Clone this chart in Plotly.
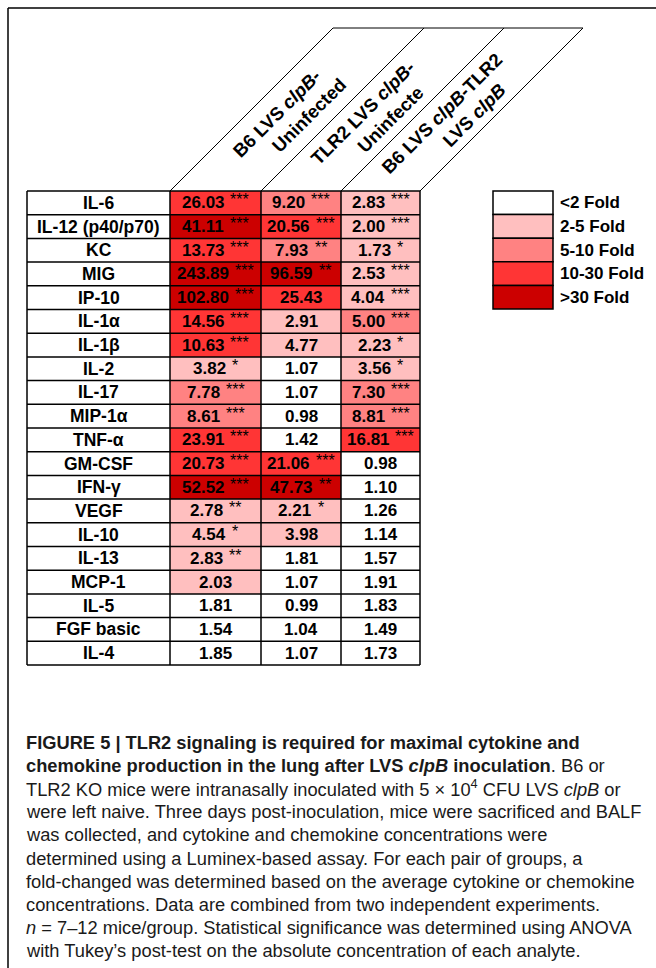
import numpy as np
import plotly.graph_objects as go

# ---- data -------------------------------------------------------------
analytes = ["IL-6", "IL-12 (p40/p70)", "KC", "MIG", "IP-10", "IL-1α", "IL-1β",
            "IL-2", "IL-17", "MIP-1α", "TNF-α", "GM-CSF", "IFN-γ", "VEGF",
            "IL-10", "IL-13", "MCP-1", "IL-5", "FGF basic", "IL-4"]

b6_vs_uninfected = [26.03, 41.11, 13.73, 243.89, 102.80, 14.56, 10.63, 3.82, 7.78,
                    8.61, 23.91, 20.73, 52.52, 2.78, 4.54, 2.83, 2.03, 1.81, 1.54, 1.85]
b6_vs_uninfected_sig = ["***", "***", "***", "***", "***", "***", "***", "*", "***",
                        "***", "***", "***", "***", "**", "*", "**", "", "", "", ""]

tlr2_vs_uninfected = [9.20, 20.56, 7.93, 96.59, 25.43, 2.91, 4.77, 1.07, 1.07,
                      0.98, 1.42, 21.06, 47.73, 2.21, 3.98, 1.81, 1.07, 0.99, 1.04, 1.07]
tlr2_vs_uninfected_sig = ["***", "***", "**", "**", "", "", "", "", "",
                          "", "", "***", "**", "*", "", "", "", "", "", ""]

b6_vs_tlr2 = [2.83, 2.00, 1.73, 2.53, 4.04, 5.00, 2.23, 3.56, 7.30,
              8.81, 16.81, 0.98, 1.10, 1.26, 1.14, 1.57, 1.91, 1.83, 1.49, 1.73]
b6_vs_tlr2_sig = ["***", "***", "*", "***", "***", "***", "*", "*", "***",
                  "***", "***", "", "", "", "", "", "", "", "", ""]

# column headers: (first line, second line)
comparisons = [("B6 LVS <i>clpB</i>-", "Uninfected"),
               ("TLR2 LVS <i>clpB</i>-", "Uninfecte"),
               ("B6 LVS <i>clpB</i>-TLR2", "LVS <i>clpB</i>")]

fold_edges = [2, 5, 10, 30]
fold_labels = ["&lt;2 Fold", "2-5 Fold", "5-10 Fold", "10-30 Fold", "&gt;30 Fold"]
# KC in the B6 LVS clpB-TLR2 LVS clpB comparison is shaded in the 2-5 band
forced_bands = {(2, 2): 1}

caption_lines = [
    "<b>FIGURE 5 | TLR2 signaling is required for maximal cytokine and</b>",
    "<b>chemokine production in the lung after LVS <i>clpB</i> inoculation</b>. B6 or",
    "TLR2 KO mice were intranasally inoculated with 5 × 10<sup>4</sup> CFU LVS <i>clpB</i> or",
    "were left naive. Three days post-inoculation, mice were sacrificed and BALF",
    "was collected, and cytokine and chemokine concentrations were",
    "determined using a Luminex-based assay. For each pair of groups, a",
    "fold-changed was determined based on the average cytokine or chemokine",
    "concentrations. Data are combined from two independent experiments.",
    "<i>n</i> = 7–12 mice/group. Statistical significance was determined using ANOVA",
    "with Tukey’s post-test on the absolute concentration of each analyte.",
]

# ---- layout constants (pixel space) -----------------------------------
W, H = 656, 968
band_colors = ["#FFFFFF", "#FFBFBF", "#FF8282", "#FF3535", "#CC0000"]
col_edges = [27, 170, 261, 341, 420]      # label column + three comparison columns
table_top, row_h = 191, 23.7
header_top = 28
legend_x0, legend_x1, legend_top, legend_h = 493, 553, 191, 23.6
cap_x, cap_y0, cap_dy = 24, 742, 23.2
FONT = "Liberation Sans, Arial, sans-serif"
NUM_SIZE, STAR_SIZE, STAR_GAP = 17, 16, 6

values = np.array([b6_vs_uninfected, tlr2_vs_uninfected, b6_vs_tlr2]).T
sigs = list(zip(b6_vs_uninfected_sig, tlr2_vs_uninfected_sig, b6_vs_tlr2_sig))
bands = np.digitize(values, fold_edges).astype(float)
for (r, c), b in forced_bands.items():
    bands[r, c] = b

n_rows = len(analytes)
row_edges = [table_top + i * row_h for i in range(n_rows + 1)]
row_mid = [(row_edges[i] + row_edges[i + 1]) / 2 for i in range(n_rows)]
col_mid = [(col_edges[i] + col_edges[i + 1]) / 2 for i in range(len(col_edges) - 1)]
table_bottom = row_edges[-1]


def num_width(s, size):
    # advance widths of the bold sans digits and decimal point
    return sum(0.278 if ch == "." else 0.556 for ch in s) * size


fig = go.Figure()

# shaded fold-change cells
n_b = len(band_colors)
scale = []
for i, c in enumerate(band_colors):
    scale += [[i / n_b, c], [(i + 1) / n_b, c]]
fig.add_trace(go.Heatmap(
    x=col_edges[1:], y=row_edges, z=bands,
    colorscale=scale, zmin=-0.5, zmax=n_b - 0.5,
    showscale=False, hoverinfo="skip", xgap=0, ygap=0,
))

shapes = []
line = dict(color="black", width=1.5)

# outer frame
shapes.append(dict(type="line", x0=8, y0=8, x1=W, y1=8, line=dict(color="black", width=1.5)))
shapes.append(dict(type="line", x0=8, y0=8, x1=8, y1=H, line=dict(color="black", width=1.5)))

# table grid
for y in row_edges:
    shapes.append(dict(type="line", x0=col_edges[0], x1=col_edges[-1], y0=y, y1=y, line=line))
for x in col_edges:
    shapes.append(dict(type="line", x0=x, x1=x, y0=table_top, y1=table_bottom, line=line))

# slanted header bands
rise = table_top - header_top
for x in col_edges[1:]:
    shapes.append(dict(type="line", x0=x, y0=table_top, x1=x + rise, y1=header_top, line=dict(color="black", width=1)))
shapes.append(dict(type="line", x0=col_edges[1] + rise, x1=col_edges[-1] + rise,
                   y0=header_top, y1=header_top, line=dict(color="black", width=1)))

# legend swatches
for i, c in enumerate(band_colors):
    y0 = legend_top + i * legend_h
    shapes.append(dict(type="rect", x0=legend_x0, x1=legend_x1, y0=y0, y1=y0 + legend_h,
                       fillcolor=c, line=dict(color="black", width=1.5)))

annotations = []

# row labels
for name, y in zip(analytes, row_mid):
    annotations.append(dict(x=col_mid[0], y=y, text=f"<b>{name}</b>", showarrow=False,
                            xanchor="center", yanchor="middle",
                            font=dict(family=FONT, size=17.5, color="black")))

# cell values with significance stars; number + stars centred as a group
for r in range(n_rows):
    for c in range(3):
        s = f"{values[r, c]:.2f}"
        star = sigs[r][c]
        nw = num_width(s, NUM_SIZE)
        sw = len(star) * 0.389 * STAR_SIZE
        group = nw + (STAR_GAP + sw if star else 0)
        left = col_mid[c + 1] - group / 2
        annotations.append(dict(x=left + nw / 2, y=row_mid[r], text=f"<b>{s}</b>", showarrow=False,
                                xanchor="center", yanchor="middle",
                                font=dict(family=FONT, size=NUM_SIZE, color="black")))
        if star:
            annotations.append(dict(x=left + nw + STAR_GAP + sw / 2, y=row_mid[r] - 3,
                                    text=star, showarrow=False,
                                    xanchor="center", yanchor="middle",
                                    font=dict(family=FONT, size=STAR_SIZE, color="black")))

# rotated column headers, one annotation per line
hy = 114
for c, (l1, l2) in enumerate(comparisons):
    cx = (col_edges[c + 1] + col_edges[c + 2]) / 2 + (table_top - hy)
    for (dx, dy), t in zip([(-16, -1), (16, 1)], [l1, l2]):
        shift = (-4, 4) if t == "Uninfecte" else (0, 0)
        annotations.append(dict(x=cx + dx + shift[0], y=hy + dy + shift[1], text=f"<b>{t}</b>",
                                textangle=-45, showarrow=False,
                                xanchor="center", yanchor="middle",
                                font=dict(family=FONT, size=18.5, color="black")))

# legend labels
for i, lab in enumerate(fold_labels):
    annotations.append(dict(x=legend_x1 + 5, y=legend_top + (i + 0.5) * legend_h,
                            text=f"<b>{lab}</b>", showarrow=False,
                            xanchor="left", yanchor="middle",
                            font=dict(family=FONT, size=17, color="black")))

# caption
for i, t in enumerate(caption_lines):
    annotations.append(dict(x=cap_x, y=cap_y0 + i * cap_dy, text=t, showarrow=False,
                            xanchor="left", yanchor="middle",
                            font=dict(family=FONT, size=18.3, color="#1a1a1a")))

fig.update_layout(
    width=W, height=H, autosize=False,
    margin=dict(l=0, r=0, t=0, b=0),
    paper_bgcolor="white", plot_bgcolor="white",
    xaxis=dict(range=[0, W], visible=False, fixedrange=True),
    yaxis=dict(range=[H, 0], visible=False, fixedrange=True),
    shapes=shapes, annotations=annotations, showlegend=False,
)

fig.write_html("out.html")
